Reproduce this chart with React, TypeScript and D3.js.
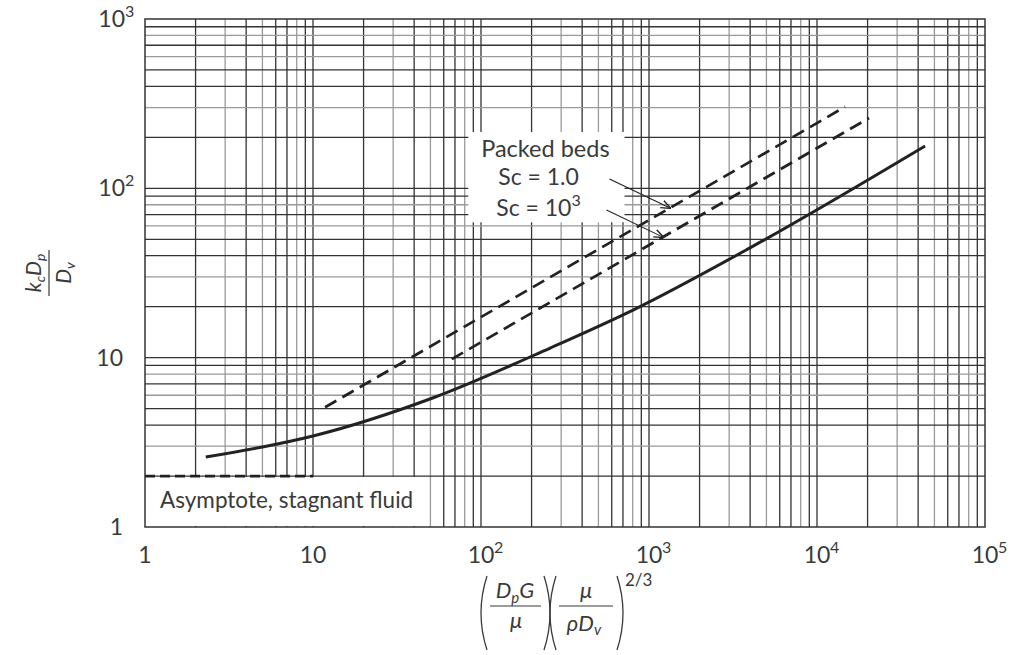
import React from "react";
import * as d3 from "d3";

const W = 1012;
const H = 655;

// decades and log-grid multipliers
const xTickExp = [0, 1, 2, 3, 4, 5];
const yTickExp = [0, 1, 2, 3];
const gridMult = [1, 2, 3, 4, 5, 6, 7, 8, 9];
const grayMultX = [3, 5, 8];
const grayMultY = [3, 6, 8];

// solid curve
const solidX = [2.3, 5, 10, 52, 258, 803, 3990, 44000];
const solidY = [2.59, 2.97, 3.45, 5.8, 11.4, 19.1, 44.5, 178];

// packed beds, Sc = 1.0 and Sc = 10^3
const sc1X = [11.8, 14700];
const sc1Y = [5.1, 303];
const sc3X = [67, 20400];
const sc3Y = [9.8, 260];

// asymptote, stagnant fluid
const asymX = [1, 10];
const asymY = [2, 2];

const TXT = "#3a3a3a";
const FONT = "Lato, 'Open Sans', sans-serif";

const App = () => {
  const x = d3.scaleLog().domain([1, 1e5]).range([145, 985]);
  const y = d3.scaleLog().domain([1, 1000]).range([527, 19]);

  const line = d3
    .line<[number, number]>()
    .x(d => x(d[0]))
    .y(d => y(d[1]))
    .curve(d3.curveMonotoneX);

  const pts = (xs: number[], ys: number[]) => xs.map((v, i) => [v, ys[i]] as [number, number]);

  const vLines: { v: number; gray: boolean }[] = [];
  xTickExp.slice(0, -1).forEach(e => gridMult.forEach(m => {
    if (m === 1 && e === 0) return;
    vLines.push({ v: m * 10 ** e, gray: grayMultX.includes(m) });
  }));
  const hLines: { v: number; gray: boolean }[] = [];
  yTickExp.slice(0, -1).forEach(e => gridMult.forEach(m => {
    if (m === 1 && e === 0) return;
    hLines.push({ v: m * 10 ** e, gray: grayMultY.includes(m) });
  }));

  // white label boxes (data space)
  const asymBox = { x0: 1, x1: 48, y0: 1, y1: 2 };
  const bedBox = { x0: 84, x1: 715, y0: 63, y1: 215 };
  const bx0 = x(bedBox.x0), bx1 = x(bedBox.x1), by0 = y(bedBox.y1), by1 = y(bedBox.y0);

  // arrow tips on the dashed lines
  const along = (xs: number[], ys: number[], v: number) => {
    const lx = xs.map(Math.log10), ly = ys.map(Math.log10);
    return 10 ** (ly[0] + (ly[1] - ly[0]) * (Math.log10(v) - lx[0]) / (lx[1] - lx[0]));
  };
  const tip1x = 1334;
  const tip1y = along(sc1X, sc1Y, tip1x);
  const tip2x = 1211;
  const tip2y = along(sc3X, sc3Y, tip2x);

  const tickLabel = (e: number) => (e === 0 ? "1" : "10");

  return (
    <svg width={W} height={H} style={{ position: "absolute", left: 0, top: 0, background: "#fff" }} fontFamily={FONT}>
      <defs>
        <marker id="ah" viewBox="0 0 10 10" refX="9" refY="5" markerWidth="9" markerHeight="9" orient="auto">
          <path d="M0,1 L10,5 L0,9" fill="none" stroke="#222" strokeWidth="1.4" />
        </marker>
      </defs>

      {/* grid */}
      {vLines.map((d, i) => (
        <line key={"v" + i} x1={x(d.v)} x2={x(d.v)} y1={y(1)} y2={y(1000)}
          stroke={d.gray ? "#9a9a9a" : "#333"} strokeWidth={1.3} />
      ))}
      {hLines.map((d, i) => (
        <line key={"h" + i} x1={x(1)} x2={x(1e5)} y1={y(d.v)} y2={y(d.v)}
          stroke={d.gray ? "#9a9a9a" : "#333"} strokeWidth={1.3} />
      ))}

      {/* label boxes */}
      <rect x={x(asymBox.x0) + 1} y={y(asymBox.y1) + 1} width={x(asymBox.x1) - x(asymBox.x0) - 1}
        height={y(asymBox.y0) - y(asymBox.y1) - 2} fill="#fff" />
      <rect x={bx0} y={by0} width={bx1 - bx0} height={by1 - by0} fill="#fff" />

      {/* frame */}
      <rect x={x(1)} y={y(1000)} width={x(1e5) - x(1)} height={y(1) - y(1000)} fill="none" stroke="#333" strokeWidth={1.5} />

      {/* curves */}
      <path d={line(pts(solidX, solidY)) || ""} fill="none" stroke="#222" strokeWidth={3} />
      <path d={line(pts(sc1X, sc1Y)) || ""} fill="none" stroke="#222" strokeWidth={2.8} strokeDasharray="13,7" />
      <path d={line(pts(sc3X, sc3Y)) || ""} fill="none" stroke="#222" strokeWidth={2.8} strokeDasharray="13,7" />
      <path d={line(pts(asymX, asymY)) || ""} fill="none" stroke="#222" strokeWidth={2.8} strokeDasharray="10,5" />

      {/* annotations */}
      <text x={x(asymBox.x0) + 15} y={y(1) - 19} fontSize={22.5} fill={TXT}>Asymptote, stagnant fluid</text>
      <text x={(bx0 + bx1) / 2 - 1} y={by0 + 25} fontSize={23.5} fill={TXT} textAnchor="middle">Packed beds</text>
      <text x={bx0 + 30} y={by0 + 53} fontSize={23} fill={TXT}>Sc = 1.0</text>
      <text x={bx0 + 28} y={by0 + 84} fontSize={23} fill={TXT}>Sc = 10<tspan dy={-10} fontSize={16}>3</tspan></text>
      <line x1={bx1 - 15} y1={by0 + 47} x2={x(tip1x)} y2={y(tip1y)} stroke="#222" strokeWidth={1.1} markerEnd="url(#ah)" />
      <line x1={bx1 - 18} y1={by0 + 78} x2={x(tip2x)} y2={y(tip2y)} stroke="#222" strokeWidth={1.1} markerEnd="url(#ah)" />

      {/* x tick labels */}
      {xTickExp.map(e => (
        <g key={"xt" + e}>
          <text x={x(10 ** e)} y={563} fontSize={23} fill={TXT} textAnchor="middle">{tickLabel(e)}</text>
          {e > 1 && <text x={x(10 ** e) + 13} y={553} fontSize={16} fill={TXT}>{e}</text>}
        </g>
      ))}

      {/* y tick labels */}
      {yTickExp.map(e => (
        <g key={"yt" + e}>
          <text x={e > 1 ? 125 : 123} y={y(10 ** e) + 8} fontSize={23} fill={TXT} textAnchor="end">{tickLabel(e)}</text>
          {e > 1 && <text x={125} y={y(10 ** e) - 2} fontSize={16} fill={TXT}>{e}</text>}
        </g>
      ))}

      {/* y title */}
      <g transform="translate(49,273) rotate(-90)" fill={TXT} fontStyle="italic" fontSize={21}>
        <text x={0} y={-8} textAnchor="middle">k<tspan dy={4} fontSize={14}>c</tspan><tspan dy={-4}>D</tspan><tspan dy={4} fontSize={14}>p</tspan></text>
        <line x1={-23} x2={23} y1={0} y2={0} stroke={TXT} strokeWidth={1.2} />
        <text x={0} y={22} textAnchor="middle">D<tspan dy={4} fontSize={14}>v</tspan></text>
      </g>

      {/* x title */}
      <g fill={TXT} fontSize={22} stroke="none">
        <path d="M487,576 Q475,613 487,650" fill="none" stroke={TXT} strokeWidth={1.3} />
        <text x={515} y={598} textAnchor="middle" fontStyle="italic">D<tspan dy={5} fontSize={15}>p</tspan><tspan dy={-5}>G</tspan></text>
        <line x1={490} x2={541} y1={606} y2={606} stroke={TXT} strokeWidth={1.2} />
        <text x={516} y={628} textAnchor="middle" fontStyle="italic">μ</text>
        <path d="M544,576 Q556,613 544,650" fill="none" stroke={TXT} strokeWidth={1.3} />
        <path d="M556,576 Q544,613 556,650" fill="none" stroke={TXT} strokeWidth={1.3} />
        <text x={586} y={598} textAnchor="middle" fontStyle="italic">μ</text>
        <line x1={559} x2={613} y1={606} y2={606} stroke={TXT} strokeWidth={1.2} />
        <text x={584} y={631} textAnchor="middle" fontStyle="italic">ρD<tspan dy={4} fontSize={15}>v</tspan></text>
        <path d="M617,576 Q629,613 617,650" fill="none" stroke={TXT} strokeWidth={1.3} />
        <text x={625} y={586} fontSize={17}>2/3</text>
      </g>
    </svg>
  );
};

export default App;
